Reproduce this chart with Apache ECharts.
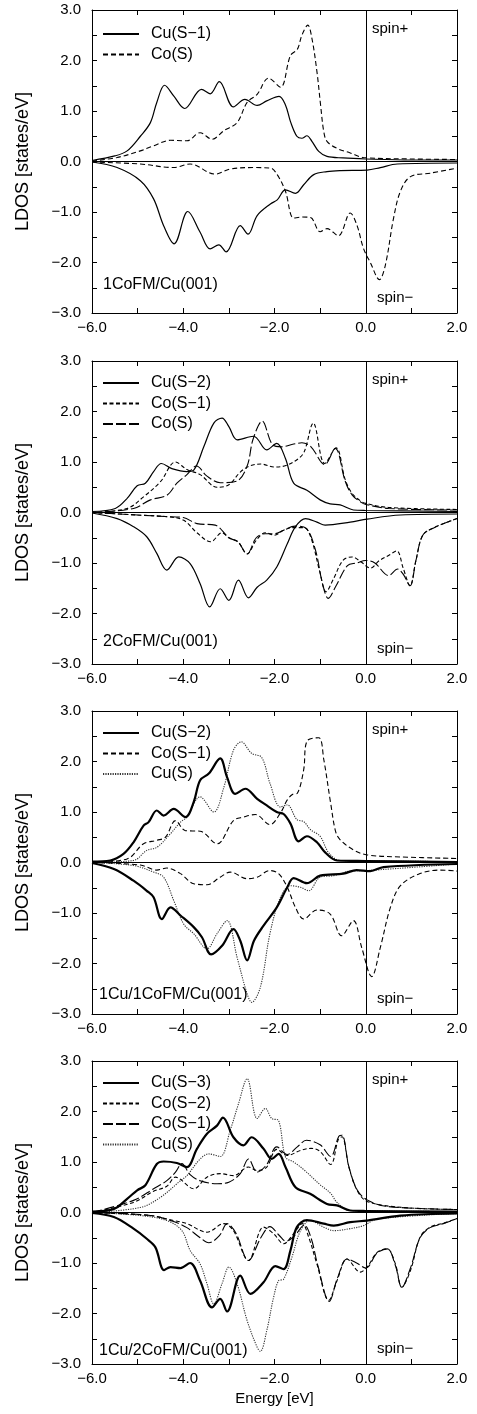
<!DOCTYPE html>
<html><head><meta charset="utf-8">
<script src="https://cdn.jsdelivr.net/npm/echarts@6/dist/echarts.min.js"></script>
<style>html,body{margin:0;padding:0;background:#fff}#c{width:477px;height:1414px}</style>
</head><body><div id="c"></div>
<script>
// ---------- axis ticks ----------
const xTicks = [-6, -4, -2, 0, 2];
const yTicks = [-3, -2, -1, 0, 1, 2, 3];

// ---------- panel titles / legends ----------
const panelTitles = ['1CoFM/Cu(001)', '2CoFM/Cu(001)', '1Cu/1CoFM/Cu(001)', '1Cu/2CoFM/Cu(001)'];
const p1Names = ['Cu(S−1)', 'Co(S)'];
const p2Names = ['Cu(S−2)', 'Co(S−1)', 'Co(S)'];
const p3Names = ['Cu(S−2)', 'Co(S−1)', 'Cu(S)'];
const p4Names = ['Cu(S−3)', 'Co(S−2)', 'Co(S−1)', 'Cu(S)'];

// ---------- panel 1 : 1CoFM/Cu(001) ----------
const p1_CuS1_up = [[-6,0.02],[-5.5,0.11],[-5.23,0.21],[-4.94,0.5],[-4.72,0.77],[-4.58,1.17],[-4.41,1.51],[-4.21,1.3],[-3.97,1.05],[-3.6,1.43],[-3.41,1.34],[-3.21,1.58],[-2.9,1.08],[-2.65,1.23],[-2.38,1.11],[-2.17,1.2],[-1.9,1.29],[-1.76,1.12],[-1.65,0.79],[-1.51,0.5],[-1.4,0.46],[-1.29,0.51],[-1.18,0.4],[-1.03,0.2],[-0.85,0.1],[-0.5,0.07],[0,0.05],[1,0.03],[2,0.03]];
const p1_CoS_up = [[-6,0.01],[-5.45,0.08],[-4.94,0.21],[-4.65,0.31],[-4.28,0.42],[-3.92,0.41],[-3.63,0.57],[-3.37,0.44],[-3.11,0.61],[-2.82,0.77],[-2.6,1.17],[-2.38,1.33],[-2.13,1.65],[-1.87,1.47],[-1.65,2.1],[-1.5,2.22],[-1.4,2.5],[-1.27,2.7],[-1.18,2.44],[-1.07,1.78],[-0.99,1.12],[-0.92,0.59],[-0.85,0.4],[-0.63,0.26],[-0.34,0.17],[-0.05,0.08],[1,0.05],[2,0.04]];
const p1_CuS1_dn = [[-6,-0.01],[-5.45,-0.12],[-4.94,-0.38],[-4.65,-0.74],[-4.43,-1.27],[-4.2,-1.63],[-3.9,-0.99],[-3.63,-1.4],[-3.41,-1.73],[-3.22,-1.65],[-3.06,-1.79],[-2.75,-1.27],[-2.58,-1.44],[-2.38,-1.07],[-2.09,-0.84],[-1.94,-0.76],[-1.76,-0.56],[-1.54,-0.63],[-1.36,-0.46],[-1.14,-0.26],[-0.85,-0.2],[-0.56,-0.18],[0.03,-0.17],[0.32,-0.12],[0.69,-0.05],[2,-0.03]];
const p1_CoS_dn = [[-6,-0.01],[-4.94,-0.05],[-4.21,-0.12],[-3.85,-0.05],[-3.3,-0.25],[-2.97,-0.15],[-2.46,-0.12],[-2.09,-0.13],[-1.94,-0.26],[-1.76,-0.59],[-1.58,-1.12],[-1.4,-1.1],[-1.21,-1.11],[-1.0,-1.39],[-0.85,-1.33],[-0.6,-1.47],[-0.34,-1.02],[-0.19,-1.27],[-0.05,-1.72],[0.1,-2.0],[0.3,-2.34],[0.43,-2.05],[0.61,-1.12],[0.76,-0.59],[0.98,-0.3],[1.42,-0.23],[2.0,-0.13]];

// ---------- panel 2 : 2CoFM/Cu(001) ----------
const p2_CuS2_up = [[-6,0.02],[-5.49,0.08],[-5.23,0.28],[-5.01,0.53],[-4.83,0.58],[-4.65,0.81],[-4.48,0.97],[-4.25,0.87],[-3.92,0.81],[-3.77,0.84],[-3.55,1.3],[-3.33,1.77],[-3.15,1.87],[-3.0,1.7],[-2.82,1.44],[-2.46,1.51],[-2.17,1.24],[-1.95,1.37],[-1.76,1.07],[-1.58,0.58],[-1.29,0.44],[-1.0,0.25],[-0.78,0.17],[-0.56,0.15],[-0.27,0.05],[0,0.04],[2,0.02]];
const p2_CoS1_up = [[-6,0],[-5.23,0.08],[-4.87,0.31],[-4.5,0.61],[-4.17,1.0],[-3.92,0.85],[-3.63,0.75],[-3.26,0.5],[-3.0,0.55],[-2.75,0.8],[-2.55,0.92],[-2.3,0.96],[-2.0,0.9],[-1.75,0.93],[-1.5,1.05],[-1.35,1.2],[-1.15,1.77],[-0.9,0.97],[-0.65,1.28],[-0.45,0.65],[-0.3,0.38],[-0.1,0.22],[0,0.18],[0.5,0.1],[2,0.06]];
const p2_CoS_up = [[-6,0],[-5.09,0.08],[-4.72,0.25],[-4.36,0.34],[-4.14,0.58],[-3.92,0.75],[-3.71,0.92],[-3.48,0.72],[-3.19,0.59],[-2.83,0.62],[-2.6,0.92],[-2.47,1.45],[-2.27,1.81],[-2.05,1.35],[-1.85,1.3],[-1.6,1.35],[-1.4,1.38],[-1.2,1.3],[-0.9,0.95],[-0.67,1.27],[-0.45,0.62],[-0.3,0.35],[-0.1,0.2],[0,0.16],[0.5,0.08],[2,0.05]];
const p2_CuS2_dn = [[-6,-0.01],[-5.45,-0.12],[-5.09,-0.28],[-4.8,-0.48],[-4.58,-0.81],[-4.36,-1.14],[-4.1,-0.88],[-3.85,-1.01],[-3.63,-1.41],[-3.42,-1.87],[-3.19,-1.51],[-3.0,-1.74],[-2.79,-1.34],[-2.57,-1.69],[-2.38,-1.48],[-2.17,-1.34],[-1.95,-1.08],[-1.72,-0.62],[-1.54,-0.28],[-1.32,-0.12],[-1.07,-0.19],[-0.89,-0.25],[-0.34,-0.19],[0.03,-0.13],[0.76,-0.05],[2,-0.03]];
const p2_CoS1_dn = [[-6,0],[-5,-0.05],[-4.4,-0.08],[-4.0,-0.15],[-3.7,-0.4],[-3.4,-0.58],[-3.15,-0.4],[-3.0,-0.5],[-2.8,-0.58],[-2.6,-0.82],[-2.4,-0.55],[-2.2,-0.4],[-2.0,-0.45],[-1.8,-0.35],[-1.6,-0.3],[-1.35,-0.3],[-1.2,-0.5],[-1.0,-1.2],[-0.87,-1.57],[-0.7,-1.3],[-0.5,-0.95],[-0.3,-0.88],[-0.1,-0.98],[0.1,-1.1],[0.3,-0.95],[0.5,-0.85],[0.68,-0.76],[0.82,-1.1],[0.97,-1.45],[1.1,-0.95],[1.25,-0.45],[1.5,-0.3],[2.0,-0.12]];
const p2_CoS_dn = [[-6,0],[-5,-0.05],[-4.4,-0.08],[-4.0,-0.1],[-3.7,-0.22],[-3.3,-0.25],[-3.0,-0.5],[-2.8,-0.58],[-2.6,-0.82],[-2.4,-0.5],[-2.2,-0.42],[-2.0,-0.42],[-1.8,-0.35],[-1.55,-0.27],[-1.3,-0.32],[-1.1,-0.75],[-0.95,-1.4],[-0.82,-1.7],[-0.65,-1.45],[-0.4,-1.05],[-0.2,-1.0],[0.0,-0.95],[0.2,-1.0],[0.5,-1.25],[0.7,-1.12],[0.82,-1.22],[0.97,-1.45],[1.1,-0.95],[1.25,-0.45],[1.5,-0.3],[2.0,-0.12]];

// ---------- panel 3 : 1Cu/1CoFM/Cu(001) ----------
const p3_CuS2_up = [[-6,0.02],[-5.6,0.04],[-5.31,0.17],[-5.09,0.4],[-4.87,0.73],[-4.76,0.8],[-4.58,1.03],[-4.43,0.93],[-4.21,1.06],[-3.95,0.9],[-3.77,1.2],[-3.63,1.63],[-3.44,1.76],[-3.19,2.06],[-3.04,1.69],[-2.86,1.36],[-2.64,1.46],[-2.38,1.26],[-2.17,1.13],[-1.95,1.0],[-1.8,0.96],[-1.65,0.77],[-1.47,0.42],[-1.29,0.52],[-1.07,0.4],[-0.89,0.2],[-0.63,0.04],[0,0.03],[2,0.01]];
const p3_CoS1_up = [[-6,0],[-5.23,0.07],[-4.87,0.37],[-4.58,0.44],[-4.39,0.5],[-4.17,0.83],[-3.95,0.63],[-3.63,0.62],[-3.26,0.37],[-2.9,0.83],[-2.68,0.9],[-2.42,0.95],[-2.1,0.75],[-1.87,0.98],[-1.72,1.24],[-1.6,1.35],[-1.5,1.37],[-1.36,1.84],[-1.29,2.4],[-1.03,2.47],[-0.92,2.04],[-0.77,1.18],[-0.66,0.61],[-0.56,0.45],[-0.27,0.25],[0.03,0.15],[0.76,0.11],[2,0.08]];
const p3_CuS_up = [[-6,0],[-5.09,0.04],[-4.8,0.24],[-4.58,0.3],[-4.28,0.57],[-4.06,0.8],[-3.92,0.9],[-3.63,1.3],[-3.33,1.0],[-3.11,1.49],[-2.9,2.22],[-2.73,2.39],[-2.5,2.16],[-2.28,2.08],[-2.1,1.57],[-1.87,1.1],[-1.72,1.14],[-1.51,0.85],[-1.36,0.81],[-1.21,0.65],[-1.0,0.52],[-0.81,0.19],[-0.56,0.04],[2,0.02]];
const p3_CuS2_dn = [[-6,-0.01],[-5.52,-0.13],[-5.09,-0.36],[-4.8,-0.56],[-4.65,-0.69],[-4.47,-1.12],[-4.28,-0.89],[-4.06,-1.05],[-3.77,-1.28],[-3.59,-1.48],[-3.39,-1.82],[-3.15,-1.65],[-2.9,-1.32],[-2.75,-1.55],[-2.6,-1.94],[-2.45,-1.55],[-2.24,-1.25],[-1.95,-0.89],[-1.72,-0.49],[-1.58,-0.31],[-1.29,-0.41],[-1.0,-0.26],[-0.49,-0.22],[-0.2,-0.15],[0.1,-0.17],[0.39,-0.09],[2,-0.03]];
const p3_CoS1_dn = [[-6,0],[-4.94,-0.05],[-4.58,-0.15],[-4.36,-0.11],[-4.06,-0.22],[-3.77,-0.42],[-3.48,-0.44],[-3.19,-0.29],[-2.97,-0.19],[-2.6,-0.32],[-2.38,-0.29],[-2.1,-0.16],[-1.91,-0.22],[-1.72,-0.49],[-1.54,-0.89],[-1.36,-1.12],[-1.07,-0.94],[-0.78,-1.02],[-0.53,-1.45],[-0.27,-1.15],[-0.09,-1.68],[0.13,-2.26],[0.32,-1.68],[0.54,-0.89],[0.76,-0.46],[1.19,-0.22],[1.63,-0.15],[2,-0.17]];
const p3_CuS_dn = [[-6,0],[-5.09,-0.06],[-4.65,-0.19],[-4.43,-0.29],[-4.21,-0.75],[-3.99,-1.22],[-3.77,-1.41],[-3.48,-1.71],[-3.26,-1.41],[-3.04,-1.15],[-2.82,-1.88],[-2.6,-2.6],[-2.5,-2.77],[-2.31,-2.47],[-2.1,-1.41],[-1.87,-0.69],[-1.65,-0.46],[-1.43,-0.49],[-1.25,-0.56],[-1.0,-0.29],[-0.7,-0.26],[-0.34,-0.17],[0.03,-0.16],[2,-0.03]];

// ---------- panel 4 : 1Cu/2CoFM/Cu(001) ----------
const p4_CuS3_up = [[-6,0.02],[-5.52,0.07],[-5.23,0.27],[-5.01,0.44],[-4.83,0.54],[-4.58,0.96],[-4.43,1.01],[-4.14,0.98],[-3.92,0.9],[-3.7,1.26],[-3.48,1.56],[-3.26,1.72],[-3.13,1.88],[-2.9,1.49],[-2.68,1.33],[-2.5,1.49],[-2.24,1.26],[-2.06,1.06],[-1.91,1.16],[-1.76,0.9],[-1.54,0.5],[-1.22,0.37],[-0.85,0.17],[-0.63,0.14],[-0.34,0.04],[0,0.03],[2,0.02]];
const p4_CoS2_up = [[-6,0],[-5.09,0.2],[-4.65,0.42],[-4.36,0.52],[-4.17,0.7],[-3.77,0.47],[-3.48,0.7],[-3.19,0.77],[-2.9,0.73],[-2.57,0.9],[-2.38,0.83],[-2.17,0.9],[-1.95,1.25],[-1.72,1.13],[-1.43,1.23],[-1.2,1.27],[-1.0,1.21],[-0.77,0.95],[-0.6,1.45],[-0.52,1.5],[-0.37,0.9],[-0.19,0.44],[0.03,0.22],[0.8,0.1],[2,0.06]];
const p4_CoS1_up = [[-6,0],[-5.09,0.24],[-4.65,0.47],[-4.36,0.63],[-4.17,0.8],[-4.03,0.97],[-3.85,0.75],[-3.63,0.63],[-3.26,0.57],[-3.0,0.6],[-2.75,0.77],[-2.57,1.06],[-2.38,0.8],[-2.17,0.95],[-1.95,1.3],[-1.72,1.15],[-1.5,1.3],[-1.3,1.43],[-1.0,1.34],[-0.77,1.11],[-0.59,1.51],[-0.52,1.53],[-0.37,0.91],[-0.19,0.45],[0.03,0.25],[0.47,0.12],[2,0.06]];
const p4_CuS_up = [[-6,0],[-4.94,0.1],[-4.5,0.3],[-4.06,0.63],[-3.92,0.73],[-3.63,1.06],[-3.44,1.16],[-3.19,1.11],[-2.97,1.63],[-2.79,2.15],[-2.6,2.65],[-2.38,1.86],[-2.2,2.06],[-2.06,1.86],[-1.91,1.82],[-1.76,1.1],[-1.58,1.0],[-1.36,0.85],[-1.0,0.55],[-0.77,0.38],[-0.63,0.2],[-0.34,0.04],[2,0.02]];
const p4_CuS3_dn = [[-6,-0.01],[-5.52,-0.09],[-5.09,-0.32],[-4.8,-0.52],[-4.61,-0.69],[-4.42,-1.14],[-4.28,-1.08],[-4.06,-1.1],[-3.85,-1.0],[-3.63,-1.35],[-3.37,-1.88],[-3.19,-1.71],[-3.04,-1.96],[-2.75,-1.25],[-2.53,-1.61],[-2.24,-1.38],[-1.98,-1.06],[-1.8,-1.12],[-1.65,-0.75],[-1.51,-0.29],[-1.29,-0.15],[-0.92,-0.22],[-0.7,-0.26],[-0.34,-0.19],[0.03,-0.16],[0.76,-0.06],[2,-0.02]];
const p4_CoS2_dn = [[-6,0],[-4.72,-0.06],[-4.21,-0.16],[-3.92,-0.22],[-3.48,-0.39],[-3.11,-0.22],[-2.9,-0.36],[-2.57,-0.95],[-2.24,-0.29],[-2.02,-0.42],[-1.8,-0.62],[-1.58,-0.42],[-1.39,-0.22],[-1.25,-0.49],[-1.07,-1.02],[-0.81,-1.74],[-0.63,-1.35],[-0.41,-0.92],[-0.12,-1.18],[0.03,-1.08],[0.25,-0.79],[0.47,-0.72],[0.65,-1.02],[0.79,-1.48],[0.98,-1.15],[1.19,-0.49],[1.41,-0.29],[1.71,-0.21],[2,-0.12]];
const p4_CoS1_dn = [[-6,0],[-4.72,-0.06],[-4.21,-0.18],[-3.92,-0.3],[-3.63,-0.5],[-3.44,-0.6],[-3.2,-0.45],[-3.04,-0.22],[-2.85,-0.4],[-2.57,-0.95],[-2.3,-0.5],[-2.1,-0.28],[-1.9,-0.45],[-1.75,-0.57],[-1.55,-0.45],[-1.35,-0.25],[-1.2,-0.5],[-1.05,-1.05],[-0.8,-1.76],[-0.62,-1.3],[-0.41,-0.92],[-0.2,-1.0],[0.0,-1.1],[0.25,-0.8],[0.47,-0.72],[0.65,-1.05],[0.79,-1.48],[0.98,-1.1],[1.19,-0.5],[1.41,-0.3],[1.7,-0.22],[2.0,-0.12]];
const p4_CuS_dn = [[-6,0],[-4.94,-0.06],[-4.36,-0.16],[-4.03,-0.36],[-3.85,-0.75],[-3.63,-1.02],[-3.48,-1.41],[-3.33,-1.81],[-3.15,-1.41],[-3.0,-1.08],[-2.82,-1.41],[-2.6,-2.14],[-2.38,-2.67],[-2.31,-2.75],[-2.17,-2.34],[-2.02,-1.68],[-1.91,-1.35],[-1.8,-1.32],[-1.62,-0.89],[-1.43,-0.36],[-1.22,-0.16],[-0.92,-0.29],[-0.7,-0.36],[-0.34,-0.32],[-0.05,-0.26],[0.25,-0.13],[2,-0.02]];

// ---------- assembly ----------
const FONT = '"Liberation Sans", Arial, Helvetica, sans-serif';
const gridTops = [10, 361, 711, 1061];
const GH = 303, GL = 92, GR = 20;
const SOLID = {type:'solid', width:1.2, color:'#000'};
const THICK = {type:'solid', width:2.2, color:'#000'};
const DOT = {type:[1.2,1.2], width:1.1, color:'#333'};
const SHORTD = {type:[4,2.5], width:1.1, color:'#000'};
const MEDD = {type:[5,3], width:1.1, color:'#000'};
const LONGD = {type:[10,3], width:1.1, color:'#000'};

const panels = [
  {names:p1Names, styles:[SOLID, MEDD], up:[p1_CuS1_up, p1_CoS_up], dn:[p1_CuS1_dn, p1_CoS_dn], titleOff:27, legOff:23},
  {names:p2Names, styles:[SOLID, SHORTD, LONGD], up:[p2_CuS2_up, p2_CoS1_up, p2_CoS_up], dn:[p2_CuS2_dn, p2_CoS1_dn, p2_CoS_dn], titleOff:21, legOff:21},
  {names:p3Names, styles:[THICK, MEDD, DOT], up:[p3_CuS2_up, p3_CoS1_up, p3_CuS_up], dn:[p3_CuS2_dn, p3_CoS1_dn, p3_CuS_dn], titleOff:18, legOff:21},
  {names:p4Names, styles:[THICK, SHORTD, LONGD, DOT], up:[p4_CuS3_up, p4_CoS2_up, p4_CoS1_up, p4_CuS_up], dn:[p4_CuS3_dn, p4_CoS2_dn, p4_CoS1_dn, p4_CuS_dn], titleOff:12, legOff:21}
];

const fmt = v => (v < 0 ? '−' : '') + Math.abs(v).toFixed(1);
const grid = [], xAxis = [], yAxis = [], series = [], legend = [], graphic = [];

panels.forEach((p, i) => {
  const top = gridTops[i];
  grid.push({left:GL, right:GR, top:top, height:GH, containLabel:false});
  const tick = {show:true, inside:true, length:5, lineStyle:{color:'#000', width:1}};
  const minor = {show:true, splitNumber:2, length:5, lineStyle:{color:'#000', width:1}};
  const line = {show:true, onZero:false, lineStyle:{color:'#000', width:1}};
  const xmin = xTicks[0], xmax = xTicks[xTicks.length-1];
  const ymin = yTicks[0], ymax = yTicks[yTicks.length-1];
  xAxis.push({type:'value', gridIndex:i, min:xmin, max:xmax, interval:xTicks[1]-xTicks[0], position:'bottom',
    axisLine:line, axisTick:tick, minorTick:minor, splitLine:{show:false},
    axisLabel:{formatter:fmt, color:'#000', fontFamily:FONT, fontSize:15, margin:7},
    name: i === 3 ? 'Energy [eV]' : '', nameLocation:'middle', nameGap:27,
    nameTextStyle:{color:'#000', fontFamily:FONT, fontSize:15}});
  xAxis.push({type:'value', gridIndex:i, min:xmin, max:xmax, interval:xTicks[1]-xTicks[0], position:'top',
    axisLine:line, axisTick:tick, minorTick:minor, splitLine:{show:false}, axisLabel:{show:false}});
  yAxis.push({type:'value', gridIndex:i, min:ymin, max:ymax, interval:yTicks[1]-yTicks[0], position:'left',
    axisLine:line, axisTick:tick, minorTick:minor, splitLine:{show:false},
    axisLabel:{formatter:fmt, color:'#000', fontFamily:FONT, fontSize:15, margin:11},
    name:'LDOS [states/eV]', nameLocation:'middle', nameGap:60,
    nameTextStyle:{color:'#000', fontFamily:FONT, fontSize:18}});
  yAxis.push({type:'value', gridIndex:i, min:ymin, max:ymax, interval:yTicks[1]-yTicks[0], position:'right',
    axisLine:line, axisTick:tick, minorTick:minor, splitLine:{show:false}, axisLabel:{show:false}});

  const legendData = [];
  p.names.forEach((nm, k) => {
    const id = nm + '|' + i;
    legendData.push(id);
    [p.up[k], p.dn[k]].forEach((d, h) => {
      const s = {type:'line', name:id, xAxisIndex:2*i, yAxisIndex:2*i, data:d, smooth:0.35,
        symbol:'none', lineStyle:Object.assign({}, p.styles[k]), itemStyle:{color:p.styles[k].color},
        silent:true, z: 3 - (p.styles[k] === DOT ? 1 : 0)};
      if (k === 0 && h === 0) {
        s.markLine = {silent:true, symbol:'none', label:{show:false}, animation:false,
          lineStyle:{color:'#000', width:1, type:'solid'}, data:[{xAxis:0}, {yAxis:0}]};
      }
      series.push(s);
    });
  });
  legend.push({data:legendData, orient:'vertical', left:102, top:top + p.legOff - 7, padding:0,
    itemWidth:36, itemHeight:14, itemGap:4.5,
    itemStyle:{color:'rgba(0,0,0,0)', borderColor:'rgba(0,0,0,0)', borderWidth:0, opacity:0},
    formatter: n => n.split('|')[0], selectedMode:false,
    textStyle:{color:'#000', fontFamily:FONT, fontSize:16, padding:[0,0,0,7]}});

  graphic.push({type:'text', left:372, top:top + 20 - 9, style:{text:'spin+', fill:'#000', font:'15px ' + FONT}});
  graphic.push({type:'text', left:377, top:top + GH - 14 - 9, style:{text:'spin−', fill:'#000', font:'15px ' + FONT}});
  graphic.push({type:'text', left:i >= 2 ? 99 : 103, top:top + GH - p.titleOff - 9, style:{text:panelTitles[i], fill:'#000', font:'16px ' + FONT}});
});

const chart = echarts.init(document.getElementById('c'), null, {renderer:'canvas'});
chart.setOption({animation:false, backgroundColor:'#fff', grid, xAxis, yAxis, series, legend, graphic});
</script>
</body></html>
